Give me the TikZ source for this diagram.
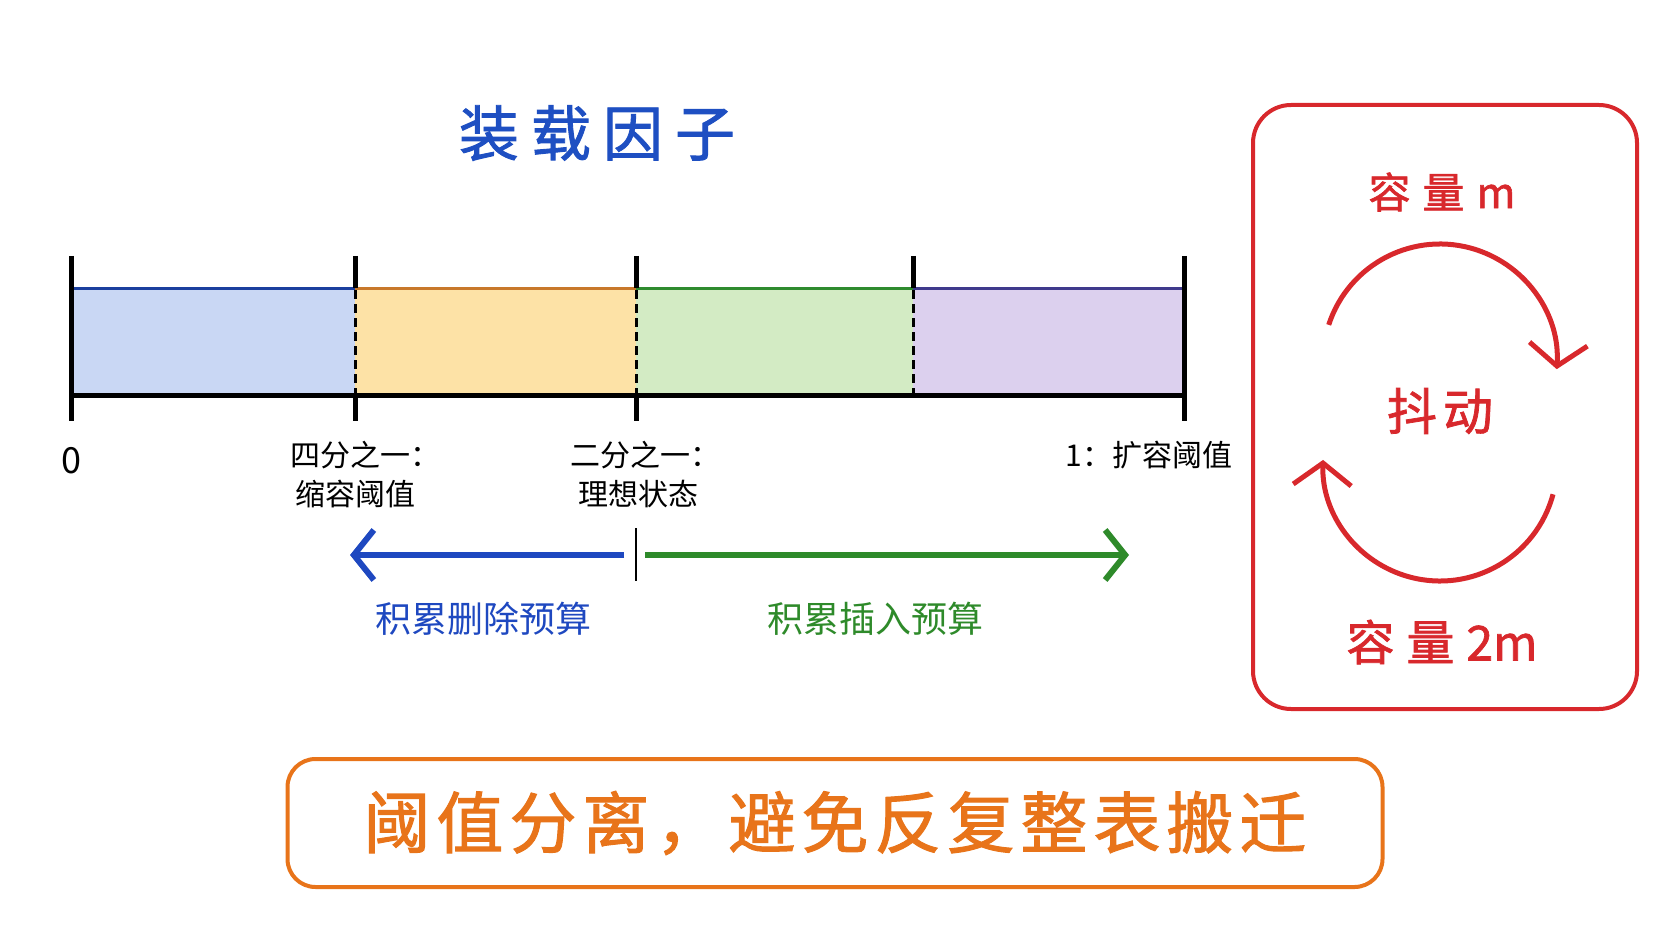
\documentclass[tikz,border=0pt]{standalone}
\usepackage{fontspec}
\setmainfont{Noto Sans CJK SC}
\newfontfamily\medcjk[FakeBold=1.5]{Noto Sans CJK SC}
\usepackage{tikz}
\usetikzlibrary{
        arrows.meta,
        positioning
    }
\definecolor{titleblue}{HTML}{1E4FC2}
\definecolor{fillblue}{HTML}{C9D7F4}
\definecolor{lineblue}{HTML}{1B3F9E}
\definecolor{fillorange}{HTML}{FDE2A6}
\definecolor{lineorange}{HTML}{C8782A}
\definecolor{fillgreen}{HTML}{D3EBC4}
\definecolor{linegreen}{HTML}{2E8B2E}
\definecolor{fillpurple}{HTML}{DCD0EE}
\definecolor{linepurple}{HTML}{3F3A8C}
\definecolor{budgetblue}{HTML}{1E48C0}
\definecolor{budgetgreen}{HTML}{2E8A2A}
\definecolor{jitterred}{HTML}{D8282C}
\definecolor{mottoorange}{HTML}{E8741A}
\tikzset{>={Straight Barb[length=20pt,width=50pt]},line cap=round}
\tikzset{
    axis/.style={black,line width=5pt},
    divider/.style={black,line width=3pt,line cap=butt,dash pattern=on 9pt off 5pt},
    segtop/.style={line width=3pt},
    budget/.style={line width=6pt,->},
    cyclearrow/.style={jitterred,line width=5pt,
        -{Straight Barb[length=22pt,width=58pt]}},
    ticklabel/.style={font=\fontsize{30}{34}\selectfont},
    budgetlabel/.style={font=\fontsize{36}{40}\selectfont},
}
\newcommand{\gap}{\hspace{12pt}}

\begin{document}
\begin{tikzpicture}[x=1pt,y=-1pt]
                \tikzstyle{every node}+=[inner sep=0pt]
                \useasboundingbox (0,0) rectangle (1672,941);
                % title
                \node (title) [titleblue,font=\fontsize{60}{64}\medcjk] at (597,133) {装\gap 载\gap 因\gap 子};
                % load factor bar
                \fill [fillblue]   (71,288) rectangle (355,395);
                \fill [fillorange] (355,288) rectangle (636,395);
                \fill [fillgreen]  (636,288) rectangle (913,395);
                \fill [fillpurple] (913,288) rectangle (1184,395);
                \draw [segtop,lineblue]   (71,288) -- (355,288);
                \draw [segtop,lineorange] (355,288) -- (636,288);
                \draw [segtop,linegreen]  (636,288) -- (913,288);
                \draw [segtop,linepurple] (913,288) -- (1184,288);
                \foreach \x in {355,636,913}
                    \draw [divider] (\x,290) -- (\x,393);
                \draw [axis] (71,395) -- (1184,395);
                \foreach \x in {71,355,636,913,1184}
                    \draw [axis] (\x,256) -- (\x,288);
                \foreach \x in {71,355,636,1184}
                    \draw [axis] (\x,395) -- (\x,421);
                \draw [axis] (71,288) -- (71,395);
                \draw [axis] (1184,288) -- (1184,395);
                % tick labels
                \node (zero) [font=\fontsize{36}{40}\selectfont] at (71,461) {0};
                \node (quarter) [ticklabel] at (365,455) {四分之一：};
                \node (shrink) [ticklabel] at (355,494) {缩容阈值};
                \node (half) [ticklabel] at (645,455) {二分之一：};
                \node (ideal) [ticklabel] at (638,494) {理想状态};
                \node (one) [ticklabel] at (1149,455) {1：扩容阈值};
                % budgets
                \coordinate (mid) at (636,555);
                \coordinate (delend) at (350,555);
                \coordinate (insend) at (1129,555);
                \draw [black,line width=2.5pt] (636,528) -- (636,581);
                \draw [budget,budgetblue] ([xshift=-12pt]mid) -- (delend);
                \draw [budget,budgetgreen] ([xshift=9pt]mid) -- (insend);
                \node (delbudget) [budgetlabel,budgetblue] at (483,619) {积累删除预算};
                \node (insbudget) [budgetlabel,budgetgreen] at (875,619) {积累插入预算};
                % jitter box
                \node (jitterbox) [draw=jitterred,line width=4pt,rounded corners=38pt,
                    minimum width=384pt,minimum height=604pt] at (1445,407) {};
                \node (capm) [jitterred,font=\fontsize{42}{46}\medcjk] at (1442,192) {容\gap 量\gap m};
                \node (jitter) [jitterred,font=\fontsize{50}{54}\medcjk] at (1440,411) {抖\hspace{6pt}动};
                \node (cap2m) [jitterred,font=\fontsize{48}{52}\medcjk] at (1442,642) {容\gap 量\gap 2m};
                \coordinate (upper) at (1440,361);
                \coordinate (lower) at (1440,464);
                \draw [cyclearrow] (upper) ++(-162:117)
                    arc[start angle=-162,end angle=4,radius=117];
                \draw [cyclearrow] (lower) ++(15:117)
                    arc[start angle=15,end angle=182,radius=117];
                % motto
                \node (motto) [draw=mottoorange,line width=4pt,rounded corners=28pt,
                    minimum width=1095pt,minimum height=128pt,text=mottoorange,
                    font=\fontsize{67}{71}\medcjk] at (835,823)
                    {阈\hspace{6pt}值\hspace{6pt}分\hspace{6pt}离\hspace{6pt}，\hspace{6pt}避\hspace{6pt}免\hspace{6pt}反\hspace{6pt}复\hspace{6pt}整\hspace{6pt}表\hspace{6pt}搬\hspace{6pt}迁};
            \end{tikzpicture}
\end{document}
